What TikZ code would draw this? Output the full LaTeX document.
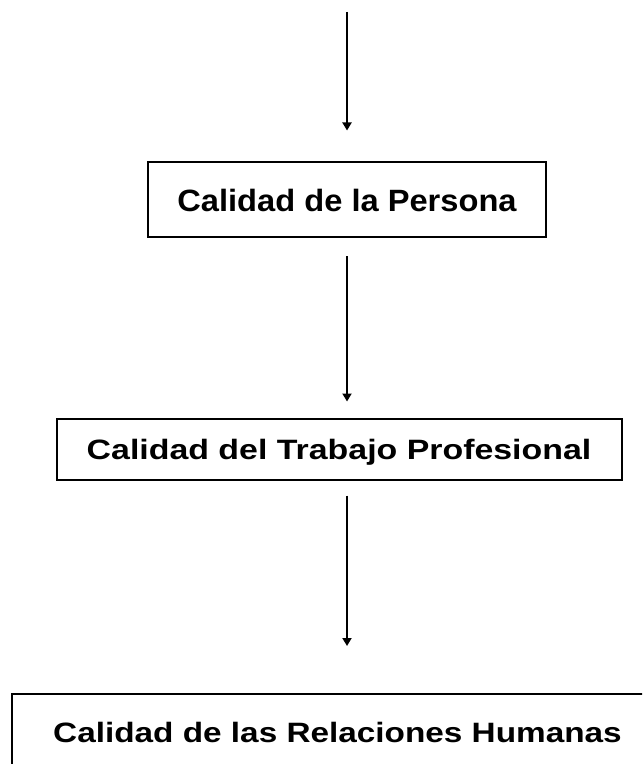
\documentclass[tikz,border=0pt]{standalone}
\usepackage{graphicx}
\usepackage{fontspec}
\setmainfont{Liberation Sans}
\usetikzlibrary{arrows.meta,positioning}
\newcommand{\ancho}[2]{\scalebox{#1}[1]{#2}}

\begin{document}
\begin{tikzpicture}[x=0.5pt,y=-0.5pt,>={Triangle[length=4pt,width=4.5pt]},
    caja/.style={draw,line width=1pt,inner sep=0pt,font=\bfseries,text depth=0pt},
    flecha/.style={->,line width=0.9pt}]
  \useasboundingbox (0,0) rectangle (642,764);
  \clip (0,0) rectangle (642,764);
  % cajas
  \node[caja,minimum width=199pt,minimum height=37.5pt,font=\bfseries\fontsize{15.4}{18}\selectfont] (persona) at (347,200) {\ancho{1.06}{Calidad de la Persona}};
  \node[caja,minimum width=282.5pt,minimum height=30.5pt,font=\bfseries\fontsize{14}{17}\selectfont] (trabajo) at (339,449) {\ancho{1.21}{Calidad del Trabajo Profesional}};
  \node[caja,minimum width=326pt,minimum height=38pt,font=\bfseries\fontsize{14}{17}\selectfont] (humanas) at (337.5,732) {\ancho{1.19}{Calidad de las Relaciones Humanas}};
  % flechas
  \coordinate (inicio) at (347,12);
  \draw[flecha,shorten >=15.5pt] (inicio) -- (persona.north);
  \draw[flecha,shorten <=9pt,shorten >=8pt] (persona.south) -- (persona.south |- trabajo.north);
  \draw[flecha,shorten <=7.5pt,shorten >=23.5pt] (persona.south |- trabajo.south) -- (persona.south |- humanas.north);
\end{tikzpicture}
\end{document}
